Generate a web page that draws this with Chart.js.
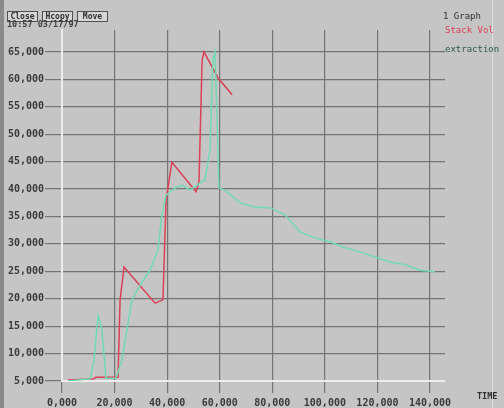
<!DOCTYPE html>
<html>
<head>
<meta charset="utf-8">
<script src="https://cdn.jsdelivr.net/npm/chart.js@4/dist/chart.umd.min.js"></script>
<style>
  html, body { margin: 0; padding: 0; background: #c5c5c5; }
  #wrap { width: 504px; height: 408px; position: relative; }
</style>
</head>
<body>
<div id="wrap"><canvas id="c" width="504" height="408"></canvas></div>
<script>
// Stack volume trace (time, value)
const stackVolTime  = [2.3, 12.2, 12.9, 21.3, 22.1, 23.6, 35.4, 38.4, 39.6, 41.8, 51.0, 52.1, 53.3, 54.0, 59.3, 64.7].map(v => v * 1000);
const stackVolValue = [5.2, 5.4, 5.7, 5.7, 19.8, 25.8, 19.2, 19.8, 38.0, 44.9, 39.5, 41.3, 63.5, 65.0, 60.3, 57.2].map(v => v * 1000);

// Extraction trace (time, value)
const extractionTime  = [2.3, 10.7, 12.2, 13.7, 15.2, 16.7, 20.5, 22.8, 24.7, 26.6, 29.7, 33.5, 36.5, 38.0, 39.6, 43.0, 45.6, 48.7, 51.4, 54.4, 56.3, 57.4, 58.2, 59.0, 59.7, 62.0, 67.7, 73.4, 79.1, 84.8, 90.5, 96.2, 101.9, 107.6, 113.4, 119.1, 124.8, 130.5, 136.2, 141.9].map(v => v * 1000);
const extractionValue = [5.0, 5.4, 8.8, 16.9, 14.3, 5.5, 5.5, 8.8, 14.3, 19.8, 22.5, 25.2, 28.9, 35.3, 38.9, 40.2, 40.7, 39.8, 40.7, 41.7, 47.1, 63.5, 65.0, 52.6, 40.2, 39.8, 37.5, 36.7, 36.6, 35.3, 32.2, 31.1, 30.4, 29.3, 28.5, 27.6, 26.7, 26.2, 25.2, 24.9].map(v => v * 1000);

// Axis ticks and their labels
const xTickValues = [0, 20000, 40000, 60000, 80000, 100000, 120000, 140000];
const xTickLabels = ["0,000", "20,000", "40,000", "60,000", "80,000", "100,000", "120,000", "140,000"];
const yTickValues = [5000, 10000, 15000, 20000, 25000, 30000, 35000, 40000, 45000, 50000, 55000, 60000, 65000];
const yTickLabels = ["5,000", "10,000", "15,000", "20,000", "25,000", "30,000", "35,000", "40,000", "45,000", "50,000", "55,000", "60,000", "65,000"];

const seriesNames = ["Stack Vol", "extraction"];
const buttonLabels = ["Close", "Hcopy", "Move"];
const stampText = "10:57 03/17/97";
const axisTitle = "TIME";
const graphTitle = "1 Graph";

const toPoints = (xs, ys) => xs.map((x, i) => ({ x: x, y: ys[i] }));

const FONT = '"DejaVu Sans Mono", monospace';
const GRID = '#747474';
const RED = '#dc4058';
const GREEN = '#72dab2';

// Window chrome: background, buttons, time stamp, legend and axis title
const chrome = {
  id: 'chrome',
  beforeDraw(chart) {
    const ctx = chart.ctx;
    ctx.save();
    ctx.fillStyle = '#c5c5c5';
    ctx.fillRect(0, 0, chart.width, chart.height);
    ctx.fillStyle = '#8a8a8a';
    ctx.fillRect(0, 0, 4, chart.height);
    ctx.strokeStyle = '#dcdcdc';
    ctx.lineWidth = 1;
    ctx.beginPath();
    ctx.moveTo(492.5, 0);
    ctx.lineTo(492.5, chart.height);
    ctx.stroke();
    ctx.restore();
  },
  afterDraw(chart) {
    const ctx = chart.ctx;
    ctx.save();
    // buttons
    ctx.font = 'bold 8px ' + FONT;
    ctx.textBaseline = 'middle';
    ctx.textAlign = 'center';
    let bx = 7;
    buttonLabels.forEach(t => {
      ctx.fillStyle = '#d6d6d6';
      ctx.fillRect(bx, 11, 31, 11);
      ctx.strokeStyle = '#505050';
      ctx.lineWidth = 1;
      ctx.strokeRect(bx + 0.5, 11.5, 30, 10);
      ctx.fillStyle = '#303030';
      ctx.fillText(t, bx + 15.5, 17);
      bx += 35;
    });
    // time stamp
    ctx.textAlign = 'left';
    ctx.font = 'bold 8.5px ' + FONT;
    ctx.fillStyle = '#404040';
    ctx.fillText(stampText, 7, 25);
    // legend
    ctx.font = '9px ' + FONT;
    ctx.fillStyle = '#303030';
    ctx.fillText(graphTitle, 443, 17);
    ctx.fillStyle = RED;
    ctx.fillText(seriesNames[0], 445, 31);
    ctx.fillStyle = '#2f5a4a';
    ctx.fillText(seriesNames[1], 445, 50);
    // axis title
    ctx.font = 'bold 8.5px ' + FONT;
    ctx.fillStyle = '#303030';
    ctx.fillText(axisTitle, 477, 397);
    ctx.restore();
  }
};

new Chart(document.getElementById('c'), {
  type: 'scatter',
  data: {
    datasets: [
      {
        label: seriesNames[1],
        data: toPoints(extractionTime, extractionValue),
        showLine: true,
        borderColor: GREEN,
        borderWidth: 1.5,
        pointRadius: 0,
        tension: 0
      },
      {
        label: seriesNames[0],
        data: toPoints(stackVolTime, stackVolValue),
        showLine: true,
        borderColor: RED,
        borderWidth: 1.5,
        pointRadius: 0,
        tension: 0
      }
    ]
  },
  options: {
    responsive: false,
    animation: false,
    devicePixelRatio: 1,
    layout: { padding: { top: 30, right: 59, left: 0, bottom: 0 } },
    plugins: { legend: { display: false }, tooltip: { enabled: false } },
    scales: {
      x: {
        type: 'linear',
        bounds: 'data',
        min: 0,
        max: 145700,
        afterFit(scale) { scale.height = 27; },
        afterBuildTicks(scale) {
          scale.min = 0; scale.max = 145700;
          scale.ticks = xTickValues.map(v => ({ value: v }));
        },
        border: { color: '#ececec', width: 2 },
        grid: { color: GRID, lineWidth: 1.2, drawTicks: true, tickLength: 12, tickColor: GRID },
        ticks: {
          maxRotation: 0,
          autoSkip: false,
          padding: 4,
          color: '#3a3a3a',
          font: { family: FONT, size: 10, weight: 'bold' },
          callback: (v) => xTickLabels[xTickValues.indexOf(v)]
        }
      },
      y: {
        type: 'linear',
        bounds: 'data',
        min: 5000,
        max: 69000,
        afterFit(scale) { scale.width = 62; },
        afterBuildTicks(scale) {
          scale.min = 5000; scale.max = 69000;
          scale.ticks = yTickValues.map(v => ({ value: v }));
        },
        border: { color: '#ececec', width: 2 },
        grid: { color: GRID, lineWidth: 1.2, drawTicks: true, tickLength: 17, tickColor: GRID },
        ticks: {
          autoSkip: false,
          padding: 1,
          color: '#3a3a3a',
          font: { family: FONT, size: 10, weight: 'bold' },
          callback: (v) => yTickLabels[yTickValues.indexOf(v)]
        }
      }
    }
  },
  plugins: [chrome]
});
</script>
</body>
</html>
